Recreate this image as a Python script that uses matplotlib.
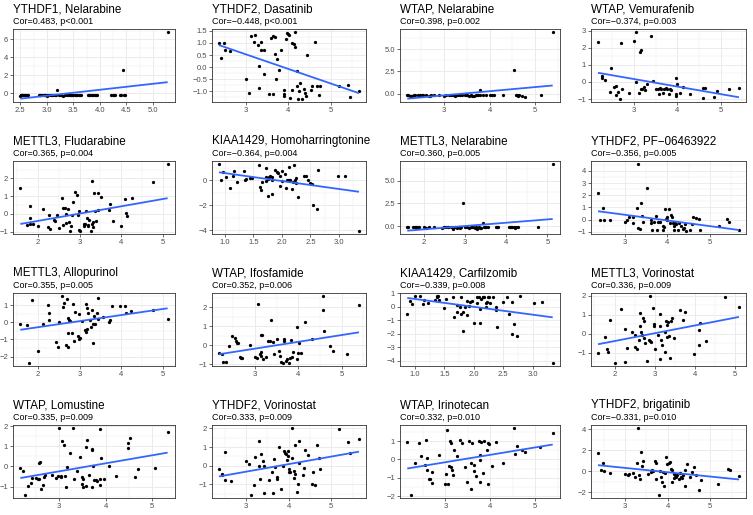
import matplotlib.pyplot as plt
import numpy as np

plt.rcParams['font.family'] = ['Liberation Sans', 'DejaVu Sans']

# ---- data (expression vs drug sensitivity) ----
ythdf1_nel_x = [2.50, 2.52, 2.55, 2.58, 2.64, 2.85, 2.88, 2.91, 2.94, 2.97, 3.00, 3.03, 3.06, 3.09, 3.12,
                3.15, 3.19, 3.22, 3.25, 3.30, 3.35, 3.38, 3.41, 3.44, 3.47, 3.50, 3.53, 3.57, 3.61, 3.65,
                3.78, 3.82, 3.86, 3.90, 3.95, 4.24, 4.27, 4.40, 4.43, 4.46, 5.28,
                2.53, 2.60, 2.87, 2.96, 3.01, 3.08, 3.17, 3.27, 3.46, 3.55, 3.63, 3.80, 3.88, 3.93,
                2.51, 2.54, 2.57, 2.62, 4.22, 4.29, 4.38, 4.47]
ythdf1_nel_y = [-0.25, -0.15, -0.2, -0.15, -0.15, -0.15, -0.2, -0.15, -0.15, -0.2, -0.3, -0.15, -0.15, -0.2, -0.15,
                -0.15, 0.4, -0.15, -0.2, -0.35, -0.2, -0.15, -0.15, -0.2, -0.15, -0.15, -0.15, -0.2, -0.15, -0.15,
                -0.15, -0.2, -0.15, -0.15, -0.2, -0.2, -0.15, -0.15, 2.6, -0.15, 6.8,
                -0.15, -0.2, -0.15, -0.15, -0.2, -0.15, -0.15, -0.15, -0.2, -0.15, -0.15, -0.15, -0.2, -0.15,
                -0.15, -0.2, -0.15, -0.15, -0.15, -0.2, -0.15, -0.15]

ythdf2_das_x = [2.37, 2.49, 2.42, 2.50, 2.64, 3.00, 3.07, 3.12, 3.22, 3.20, 3.30, 3.37, 3.36, 3.44, 3.31,
                3.31, 3.44, 3.55, 3.60, 3.65, 3.70, 3.68, 3.73, 3.72, 3.78, 3.82, 3.64, 3.90, 3.90, 3.90,
                3.97, 3.96, 4.00, 4.03, 4.05, 4.10, 4.13, 4.16, 4.17, 4.10, 4.20, 4.22, 4.25, 4.27, 4.24,
                4.33, 4.38, 4.40, 4.41, 4.45, 4.55, 4.57, 4.63, 4.68, 4.73, 4.75, 5.19, 5.42, 5.45, 5.67]
ythdf2_das_y = [0.99, 0.99, 0.36, 0.70, 0.65, -0.50, -1.08, 1.28, 1.33, 1.03, 0.92, 1.05, 0.72, 0.72, 0.04,
                -0.84, -0.27, -1.10, 1.20, 1.27, 1.25, 0.53, 0.32, -0.48, -0.10, 0.70, -1.10, -0.95, -1.10, -1.17,
                1.42, 1.16, 1.36, 1.33, -1.27, 1.00, 0.96, 0.82, 1.44, -0.96, -0.17, -0.78, -0.98, -0.64, -1.30,
                -1.30, -0.92, -1.08, -1.17, 0.50, -0.95, -0.76, 1.06, -0.78, -1.16, -0.76, -0.76, -0.72, -1.24, -0.98]

wtap_nel_x = [2.19, 2.25, 2.30, 2.36, 2.42, 2.48, 2.54, 2.60, 2.66, 2.72, 2.78, 2.88, 3.00, 3.05, 3.10,
              3.15, 3.20, 3.25, 3.30, 3.35, 3.40, 3.45, 3.50, 3.55, 3.60, 3.62, 3.66, 3.70, 3.75, 3.80,
              3.80, 3.85, 3.92, 4.00, 4.05, 4.10, 4.30, 4.54, 4.60, 4.65, 4.72, 4.78, 5.13, 5.39,
              2.33, 2.51, 2.69, 3.28, 3.48, 3.72, 2.21, 2.27, 4.58, 4.62]
wtap_nel_y = [-0.15, -0.3, -0.2, -0.15, -0.15, -0.15, -0.15, -0.15, -0.2, -0.15, -0.15, -0.15, -0.2, -0.15, -0.15,
              -0.15, -0.15, -0.2, -0.15, -0.15, -0.15, -0.15, -0.15, -0.2, -0.15, -0.3, -0.2, -0.15, -0.15, 0.44,
              -0.15, -0.15, -0.15, -0.15, -0.15, -0.15, -0.15, 2.65, -0.15, -0.15, -0.2, -0.35, -0.15, 6.87,
              -0.15, -0.15, -0.2, -0.15, -0.15, -0.15, -0.15, -0.2, -0.15, -0.3]

wtap_vem_x = [2.17, 2.25, 2.27, 2.34, 2.48, 2.44, 2.54, 2.59, 2.58, 2.62, 2.67, 2.70, 2.72, 2.89, 3.00,
              3.04, 3.05, 3.11, 3.13, 3.16, 3.16, 3.19, 3.22, 3.25, 3.31, 3.38, 3.43, 3.50, 3.55, 3.57,
              3.60, 3.63, 3.66, 3.69, 3.73, 3.77, 3.80, 3.82, 3.85, 3.96, 3.96, 3.97, 4.00, 4.06, 4.14,
              4.30, 4.60, 4.64, 4.60, 4.85, 4.91, 5.20, 5.42]
wtap_vem_y = [2.36, 0.33, 0.21, 0.13, 0.84, -0.60, -0.29, -0.25, -0.79, -0.60, -0.98, 2.28, -0.40, -0.63, 2.39,
              2.90, -0.02, -0.63, 1.76, 1.86, -0.40, -0.44, -0.29, -0.48, -0.10, 2.66, 0.04, -0.44, -0.44, -0.73,
              -0.36, -0.44, -0.63, -0.44, -0.36, -0.44, -0.69, -0.40, -0.48, -0.69, -0.83, 0.21, -0.13, -0.63, -0.29,
              -0.69, -0.36, -0.36, -0.94, -0.90, -0.52, -0.44, -0.36]

mettl3_flu_x = [1.58, 1.74, 1.80, 1.80, 1.82, 1.88, 2.00, 2.13, 2.26, 2.25, 2.28, 2.39, 2.42, 2.47, 2.50,
                2.57, 2.60, 2.61, 2.65, 2.67, 2.68, 2.71, 2.74, 2.76, 2.80, 2.81, 2.85, 2.90, 2.93, 2.97,
                2.98, 2.99, 3.00, 3.10, 3.11, 3.14, 3.15, 3.17, 3.20, 3.21, 3.22, 3.27, 3.29, 3.29, 3.31,
                3.32, 3.35, 3.38, 3.40, 3.43, 3.43, 3.52, 3.71, 3.74, 3.81, 3.99, 4.10, 4.12, 4.13, 4.25,
                4.77, 5.11]
mettl3_flu_y = [1.47, -0.65, 0.47, -0.25, -0.58, -0.58, -0.67, 0.29, -0.07, -0.76, -0.87, -0.35, -0.40, -0.04, -0.80,
                0.91, 0.35, -0.65, 0.35, 0.00, -0.53, 0.29, -0.44, -0.95, -0.67, -0.04, 0.65, 1.25, 1.09, -0.07,
                0.16, -0.89, -0.95, -0.56, -0.71, -0.55, 0.15, -0.22, -0.69, -0.62, -0.35, -0.95, 1.87, -0.60, -0.44,
                -0.76, 1.16, 0.15, -0.40, 1.16, 0.20, 0.95, 0.20, 0.53, -0.40, -0.69, 0.84, 0.07, -0.11, 0.87,
                1.78, 2.80]

kiaa_hht_x = [0.90, 0.93, 0.97, 1.03, 1.10, 1.14, 1.17, 1.21, 1.34, 1.35, 1.38, 1.45, 1.47, 1.60, 1.62,
              1.63, 1.66, 1.72, 1.72, 1.73, 1.75, 1.76, 1.78, 1.80, 1.82, 1.83, 1.83, 1.88, 1.91, 1.93,
              1.96, 1.97, 2.00, 2.01, 2.05, 2.07, 2.09, 2.11, 2.13, 2.15, 2.12, 2.17, 2.20, 2.21, 2.23,
              2.24, 2.25, 2.28, 2.39, 2.42, 2.45, 2.50, 2.52, 2.54, 2.62, 2.63, 2.99, 3.10, 3.35]
kiaa_hht_y = [1.28, 0.05, 0.67, 0.23, -0.59, 0.31, 0.72, -0.10, 0.72, 0.05, 0.10, 0.18, 0.18, 1.23, -0.54,
              -0.79, -0.15, 0.23, -0.08, 1.00, 0.10, -1.28, 0.23, 0.36, 0.26, -1.13, 0.05, 0.82, 0.67, 0.56,
              -0.46, 0.31, -0.03, 0.74, 0.49, -0.59, 0.00, 0.05, 0.05, 0.00, 1.03, -0.67, -0.10, 1.20, 0.05,
              0.18, -0.20, -1.36, 0.38, 0.31, 0.05, -0.20, -0.30, -2.00, -2.33, 0.82, 0.31, 0.36, -4.05]

mettl3_nel_x = [1.60, 1.78, 1.83, 1.88, 2.00, 2.12, 2.25, 2.45, 2.50, 2.55, 2.60, 2.65, 2.70, 2.75, 2.80,
                2.85, 2.90, 2.95, 3.00, 3.10, 3.15, 3.20, 3.25, 3.30, 3.33, 3.38, 3.43, 3.45, 3.50, 3.55,
                3.75, 3.80, 4.08, 4.15, 4.25, 4.77, 5.13,
                1.82, 2.05, 2.48, 2.58, 2.72, 2.88, 3.05, 3.18, 3.28, 3.36, 3.48, 3.78,
                1.62, 1.75, 1.80, 4.10, 4.12, 4.18, 4.22, 4.28]
mettl3_nel_y = [-0.15, -0.15, -0.15, -0.15, -0.15, -0.15, -0.15, -0.2, -0.15, -0.15, -0.15, -0.15, -0.3, -0.15, -0.2,
                -0.15, -0.15, 2.56, -0.15, -0.2, -0.15, -0.15, -0.2, -0.35, -0.15, -0.2, 0.37, -0.15, -0.15, -0.15,
                -0.15, -0.15, -0.15, -0.15, -0.15, -0.15, 6.80,
                -0.15, -0.2, -0.15, -0.15, -0.15, -0.2, -0.15, -0.15, -0.15, -0.2, -0.15, -0.15,
                -0.15, -0.15, -0.2, -0.15, -0.15, -0.15, -0.2, -0.15]

ythdf2_pf_x = [2.37, 2.42, 2.49, 2.50, 2.65, 3.00, 3.06, 3.10, 3.20, 3.19, 3.29, 3.31, 3.32, 3.36, 3.38,
               3.41, 3.42, 3.53, 3.61, 3.62, 3.64, 3.69, 3.73, 3.76, 3.78, 3.83, 3.89, 3.89, 3.92, 3.95,
               3.96, 3.98, 4.00, 4.04, 4.06, 4.09, 4.11, 4.14, 4.15, 4.16, 4.18, 4.21, 4.24, 4.28, 4.32,
               4.36, 4.39, 4.41, 4.44, 4.52, 4.58, 4.60, 4.66, 4.74, 4.77, 5.20, 5.41, 5.45, 5.68]
ythdf2_pf_y = [2.20, 0.00, 0.92, 0.00, 0.00, -0.20, -0.08, 0.20, 0.18, -0.32, 0.92, 4.55, -0.74, -0.82, 1.40,
               0.26, -0.24, 2.63, 0.00, -0.29, -0.87, -0.24, 0.26, -0.87, -0.24, -0.21, -0.53, -0.87, -0.63, 0.87,
               0.05, 0.21, -0.05, 0.87, -0.26, 0.39, 0.21, -0.32, -0.53, -0.87, -0.26, -0.39, -0.87, -0.32, -0.50,
               -0.82, -0.66, -0.39, -0.92, -0.87, -0.39, 0.18, 0.16, 0.05, -0.87, -0.55, 0.05, -0.24, -0.87]

mettl3_allo_x = [1.58, 1.74, 1.79, 1.87, 2.00, 2.12, 2.25, 2.26, 2.27, 2.44, 2.48, 2.50, 2.57, 2.61, 2.63,
                 2.68, 2.71, 2.69, 2.71, 2.73, 2.75, 2.78, 2.81, 2.85, 2.86, 2.90, 2.95, 2.98, 2.99, 3.00,
                 3.06, 3.14, 3.15, 3.15, 3.17, 3.18, 3.21, 3.24, 3.27, 3.29, 3.31, 3.33, 3.35, 3.37, 3.41,
                 3.43, 3.44, 3.55, 3.71, 3.72, 3.77, 3.97, 4.09, 4.11, 4.24, 4.77, 5.11]
mettl3_allo_y = [-0.09, -0.17, -2.36, 1.32, -1.70, -0.08, 1.00, 0.15, 0.51, -1.17, -1.45, 0.00, 1.51, 0.91, 1.13,
                 -1.30, -1.45, 1.38, -0.60, 0.25, 0.15, 0.06, -0.60, 1.04, -1.08, 0.62, -0.79, 0.49, -0.98, -0.94,
                 0.09, -0.47, 1.09, -0.55, -0.42, 0.85, 0.53, 0.15, -0.28, 0.72, -0.13, -1.21, 0.34, -0.09, 0.53,
                 0.21, 1.40, 0.28, 0.00, 0.15, 0.96, 0.96, 0.96, 0.53, 0.66, 0.72, 0.21]

wtap_ifo_x = [2.17, 2.24, 2.27, 2.34, 2.41, 2.47, 2.53, 2.56, 2.59, 2.61, 2.65, 2.68, 2.71, 2.89, 3.01,
              3.05, 3.06, 3.11, 3.13, 3.15, 3.13, 3.16, 3.19, 3.26, 3.29, 3.34, 3.37, 3.41, 3.43, 3.50,
              3.56, 3.57, 3.61, 3.64, 3.66, 3.68, 3.72, 3.75, 3.78, 3.81, 3.82, 3.85, 3.88, 3.96, 3.97,
              3.99, 4.01, 4.07, 4.15, 4.32, 4.56, 4.58, 4.60, 4.73, 4.79, 5.13, 5.40]
wtap_ifo_y = [-0.40, -0.43, -0.86, -0.90, -0.05, 0.47, 0.38, 0.21, 0.14, 0.14, -0.60, -0.69, -0.66, 0.00, -0.60,
              -0.66, 2.17, -0.43, -0.55, -0.35, 0.57, 0.52, -0.72, -0.60, 0.21, 0.21, 1.34, 0.17, -0.45, 0.31,
              -0.28, -0.55, -0.86, -0.91, 0.34, 0.21, -0.83, -0.72, -0.91, -0.66, 0.26, -0.60, -0.35, -0.72, 0.98,
              -0.40, 0.14, -0.41, 1.21, 0.31, 1.84, 2.58, 0.76, -0.05, -0.28, -0.43, 2.10]

kiaa_carf_x = [0.87, 0.91, 0.95, 1.00, 1.09, 1.13, 1.16, 1.22, 1.34, 1.37, 1.38, 1.40, 1.41, 1.49, 1.52,
               1.65, 1.67, 1.71, 1.72, 1.77, 1.79, 1.79, 1.81, 1.82, 1.85, 1.88, 1.89, 1.92, 1.93, 1.97,
               2.01, 2.06, 2.05, 2.09, 2.10, 2.11, 2.13, 2.15, 2.16, 2.18, 2.20, 2.20, 2.23, 2.24, 2.26,
               2.28, 2.33, 2.37, 2.38, 2.40, 2.50, 2.56, 2.59, 2.64, 2.64, 2.69, 2.73, 2.79, 3.03, 3.15,
               3.34]
kiaa_carf_y = [-0.53, 0.43, 0.19, 0.78, 0.78, 0.19, 0.50, 0.26, 0.50, 0.75, 0.78, 0.78, 0.50, -0.10, 0.60,
               0.75, -0.76, -0.36, 0.14, 0.02, -0.53, 0.75, -0.36, -1.76, -0.02, 0.43, -0.62, 0.10, 0.36, 0.40,
               -1.18, 0.31, 0.75, 0.70, -1.23, -0.14, 0.58, 0.75, 0.75, 0.75, 0.02, 0.26, 0.38, 0.75, 0.75,
               0.31, 0.75, -0.22, -0.02, -1.47, 0.38, 0.75, -0.55, 0.38, -2.00, -1.25, -2.12, 0.78, 0.26, 0.33,
               -4.13]

mettl3_vor_x = [1.59, 1.76, 1.82, 1.83, 1.88, 2.00, 2.15, 2.26, 2.26, 2.30, 2.44, 2.50, 2.52, 2.55, 2.62,
                2.63, 2.64, 2.66, 2.68, 2.70, 2.73, 2.74, 2.77, 2.81, 2.86, 2.89, 2.92, 2.88, 2.97, 2.99,
                2.99, 3.02, 3.09, 3.13, 3.14, 3.13, 3.15, 3.18, 3.25, 3.26, 3.28, 3.30, 3.32, 3.34, 3.36,
                3.38, 3.40, 3.42, 3.48, 3.64, 3.70, 3.76, 3.98, 4.10, 4.13, 4.11, 4.28, 4.76, 5.10]
mettl3_vor_y = [-1.02, -0.19, -0.83, -0.97, 0.71, -1.53, 1.31, 0.24, -1.48, -0.76, 0.07, -0.05, -0.72, -0.79, -0.31,
                0.38, 1.10, 0.07, -0.07, 0.83, 0.67, -0.22, -0.48, -1.45, -0.36, -0.41, -0.45, 1.97, 1.36, 0.53,
                0.38, -0.79, -0.07, 1.02, -1.36, 0.38, -0.31, -0.62, -0.97, 0.10, 0.67, -0.19, 0.45, 0.59, -0.14,
                -1.28, 0.67, 0.84, -0.21, 1.26, 0.71, 1.14, -1.07, 0.21, 0.55, -0.59, -0.38, 1.91, 1.40]

wtap_lom_x = [2.17, 2.23, 2.26, 2.33, 2.39, 2.43, 2.50, 2.54, 2.58, 2.58, 2.60, 2.61, 2.65, 2.67, 2.69,
              2.84, 2.93, 2.97, 2.99, 3.04, 3.05, 3.06, 3.10, 3.13, 3.15, 3.18, 3.24, 3.31, 3.33, 3.38,
              3.44, 3.50, 3.50, 3.51, 3.52, 3.57, 3.58, 3.60, 3.64, 3.70, 3.71, 3.73, 3.71, 3.74, 3.79,
              3.82, 3.87, 3.87, 3.88, 3.90, 3.97, 4.07, 4.23, 4.47, 4.49, 4.53, 4.64, 4.69, 5.05, 5.33]
wtap_lom_y = [-0.08, -0.24, -1.40, -0.95, -0.81, -0.56, -0.56, -0.63, -0.60, 0.15, 0.24, -1.11, -0.92, -0.52, -0.44,
              -0.44, -0.56, -0.48, 1.89, -0.52, -0.47, 1.24, 1.05, -0.47, -1.00, -0.03, 0.65, 1.89, -0.60, -0.24,
              0.45, -0.52, -0.87, -1.00, -0.60, -0.95, 0.94, 1.31, -0.40, 0.85, 0.81, 0.02, -1.02, -0.65, -0.68,
              -0.73, 1.85, -0.92, -0.63, 0.42, -0.60, 0.02, -0.47, 1.15, 0.90, 1.42, -0.52, -0.14, -0.08, 1.69]

ythdf2_vor_x = [2.37, 2.43, 2.45, 2.50, 2.51, 2.66, 3.00, 3.08, 3.13, 3.20, 3.22, 3.30, 3.31, 3.32, 3.36,
                3.39, 3.42, 3.43, 3.54, 3.62, 3.64, 3.67, 3.69, 3.72, 3.73, 3.77, 3.82, 3.87, 3.90, 3.92,
                3.94, 3.96, 3.98, 3.99, 4.01, 4.01, 4.04, 4.07, 4.09, 4.12, 4.13, 4.15, 4.16, 4.19, 4.21,
                4.24, 4.25, 4.33, 4.37, 4.39, 4.45, 4.55, 4.57, 4.61, 4.66, 4.74, 4.72, 5.17, 5.40, 5.44,
                5.65]
ythdf2_vor_y = [-0.17, -0.43, -0.52, 0.72, -0.74, -0.84, 0.24, 0.10, -1.55, -1.03, 0.45, 1.31, -0.03, -0.71, 0.64,
                0.24, 0.00, -1.45, -0.76, -0.31, -1.45, 0.38, -0.05, -0.60, -0.72, 0.98, -1.22, -0.02, 0.78, 0.69,
                0.64, 0.29, 0.52, 0.76, -0.34, -0.17, -0.31, 2.00, 0.41, -0.28, -0.66, 1.12, -0.45, -1.38, -1.00,
                1.34, 0.15, -0.52, -0.14, 0.86, 0.59, -0.97, -0.36, -1.03, 1.12, -0.17, 0.41, 1.97, 1.26, 0.66,
                1.45]

wtap_iri_x = [2.15, 2.24, 2.32, 2.41, 2.45, 2.54, 2.57, 2.59, 2.60, 2.64, 2.66, 2.69, 2.69, 2.86, 3.00,
              3.01, 3.03, 3.06, 3.09, 3.11, 3.13, 3.13, 3.15, 3.18, 3.17, 3.26, 3.33, 3.37, 3.43, 3.47,
              3.52, 3.56, 3.57, 3.60, 3.63, 3.64, 3.67, 3.74, 3.76, 3.76, 3.77, 3.79, 3.83, 3.85, 3.93,
              3.95, 3.94, 3.97, 4.04, 4.13, 4.29, 4.53, 4.56, 4.59, 4.70, 4.78, 5.11, 5.39]
wtap_iri_y = [0.93, -1.92, -0.18, 0.88, 0.19, -0.32, 1.05, -0.58, 0.05, -1.07, -1.07, -0.69, -1.27, 0.23, -1.33,
              -0.79, 1.59, -1.33, -0.34, 1.00, 0.90, -0.41, -0.56, 0.53, -0.83, 0.16, 1.05, 0.88, -0.44, -1.22,
              1.02, -0.21, -1.62, 0.90, -0.62, -0.30, -0.90, 1.00, -0.02, -1.22, 0.23, 0.93, -0.72, 0.98, 0.49,
              0.88, -1.36, 0.81, -0.35, 0.93, -0.20, 1.69, 0.28, 0.72, 0.53, 0.40, 0.70, 1.46]

ythdf2_brig_x = [2.37, 2.43, 2.49, 2.50, 2.65, 3.00, 3.06, 3.10, 3.20, 3.23, 3.28, 3.31, 3.32, 3.36, 3.38,
                 3.41, 3.43, 3.53, 3.61, 3.63, 3.66, 3.70, 3.73, 3.73, 3.79, 3.81, 3.85, 3.87, 3.89, 3.91,
                 3.94, 3.95, 3.98, 4.02, 4.05, 4.08, 4.10, 4.11, 4.14, 4.16, 4.17, 4.20, 4.23, 4.26, 4.29,
                 4.31, 4.33, 4.37, 4.40, 4.41, 4.45, 4.53, 4.56, 4.61, 4.66, 4.73, 4.77, 5.19, 5.41, 5.45,
                 5.67]
ythdf2_brig_y = [1.78, 0.16, 0.81, 0.03, -0.12, -0.28, -0.34, -0.28, -0.19, -0.50, 0.81, 4.10, -0.34, -0.69, 1.87,
                 0.53, 1.00, -0.28, -0.03, 0.12, 0.06, 0.97, 0.84, -0.75, -2.22, 0.03, -0.50, -0.97, -0.03, -1.44,
                 -0.19, 1.37, 0.69, 0.81, 0.90, 0.22, 0.16, -0.97, -0.22, -0.66, -0.34, -0.53, -0.34, -0.75, -0.19,
                 -0.50, -0.66, -0.34, -1.44, 0.16, 0.66, -0.50, -0.03, 0.37, -0.34, -1.75, -0.81, -1.22, 0.19, 0.12,
                 -0.44]

titles = ["YTHDF1, Nelarabine", "YTHDF2, Dasatinib", "WTAP, Nelarabine", "WTAP, Vemurafenib",
          "METTL3, Fludarabine", "KIAA1429, Homoharringtonine", "METTL3, Nelarabine", "YTHDF2, PF\u221206463922",
          "METTL3, Allopurinol", "WTAP, Ifosfamide", "KIAA1429, Carfilzomib", "METTL3, Vorinostat",
          "WTAP, Lomustine", "YTHDF2, Vorinostat", "WTAP, Irinotecan", "YTHDF2, brigatinib"]
cors = ["0.483", "\u22120.448", "0.398", "\u22120.374",
        "0.365", "\u22120.364", "0.360", "\u22120.356",
        "0.355", "0.352", "\u22120.339", "0.336",
        "0.335", "0.333", "0.332", "\u22120.331"]
pvals = ["p<0.001", "p<0.001", "p=0.002", "p=0.003",
         "p=0.004", "p=0.004", "p=0.005", "p=0.005",
         "p=0.005", "p=0.006", "p=0.008", "p=0.009",
         "p=0.009", "p=0.009", "p=0.010", "p=0.010"]

xs = [ythdf1_nel_x, ythdf2_das_x, wtap_nel_x, wtap_vem_x,
      mettl3_flu_x, kiaa_hht_x, mettl3_nel_x, ythdf2_pf_x,
      mettl3_allo_x, wtap_ifo_x, kiaa_carf_x, mettl3_vor_x,
      wtap_lom_x, ythdf2_vor_x, wtap_iri_x, ythdf2_brig_x]
ys = [ythdf1_nel_y, ythdf2_das_y, wtap_nel_y, wtap_vem_y,
      mettl3_flu_y, kiaa_hht_y, mettl3_nel_y, ythdf2_pf_y,
      mettl3_allo_y, wtap_ifo_y, kiaa_carf_y, mettl3_vor_y,
      wtap_lom_y, ythdf2_vor_y, wtap_iri_y, ythdf2_brig_y]

xticks = [[2.5, 3.0, 3.5, 4.0, 4.5, 5.0], [3, 4, 5], [3, 4, 5], [3, 4, 5],
          [2, 3, 4, 5], [1.0, 1.5, 2.0, 2.5, 3.0], [2, 3, 4, 5], [3, 4, 5],
          [2, 3, 4, 5], [3, 4, 5], [1.0, 1.5, 2.0, 2.5, 3.0], [2, 3, 4, 5],
          [3, 4, 5], [3, 4, 5], [3, 4, 5], [3, 4, 5]]
yticks = [[0, 2, 4, 6], [-1.0, -0.5, 0.0, 0.5, 1.0, 1.5], [0.0, 2.5, 5.0], [-1, 0, 1, 2, 3],
          [-1, 0, 1, 2], [-4, -2, 0], [0.0, 2.5, 5.0], [-1, 0, 1, 2, 3, 4],
          [-2, -1, 0, 1], [-1, 0, 1, 2], [-4, -3, -2, -1, 0, 1], [-1, 0, 1, 2],
          [-1, 0, 1, 2], [-1, 0, 1, 2], [-2, -1, 0, 1], [-2, 0, 2, 4]]


def tick_labels(vals):
    dec = any(float(v) != int(v) for v in vals)
    out = []
    for v in vals:
        s = ("%.1f" % v) if dec else ("%d" % v)
        out.append(s.replace("-", "\u2212"))
    return out


def minor_of(vals):
    step = vals[1] - vals[0]
    return [vals[0] - step / 2] + [v + step / 2 for v in vals]


W, H = 753, 515
fig = plt.figure(figsize=(W / 100, H / 100), dpi=100)

col_left = [13, 212, 400, 591]
col_right = [175, 366, 560, 746]
row_top = [29, 161, 293, 425]
panel_h = 73

for i in range(16):
    r, c = divmod(i, 4)
    ax = fig.add_axes([col_left[c] / W, 1 - (row_top[r] + panel_h) / H,
                       (col_right[c] - col_left[c]) / W, panel_h / H])
    x = np.array(xs[i])
    y = np.array(ys[i])
    ax.scatter(x, y, s=5.5, color='black', linewidths=0, zorder=3)

    # linear fit, like geom_smooth(method = "lm", se = FALSE)
    slope, icpt = np.polyfit(x, y, 1)
    xl = np.array([x.min(), x.max()])
    yl = icpt + slope * xl
    ax.plot(xl, yl, color='#3366FF', lw=1.3, zorder=4, solid_capstyle='butt')

    xlo, xhi = x.min(), x.max()
    ylo, yhi = min(y.min(), yl.min()), max(y.max(), yl.max())

    ax.set_xticks(xticks[i])
    ax.set_xticklabels(tick_labels(xticks[i]))
    ax.set_yticks(yticks[i])
    ax.set_yticklabels(tick_labels(yticks[i]))
    ax.set_xticks(minor_of(xticks[i]), minor=True)
    ax.set_yticks(minor_of(yticks[i]), minor=True)
    ax.set_xlim(xlo - 0.05 * (xhi - xlo), xhi + 0.05 * (xhi - xlo))
    ax.set_ylim(ylo - 0.05 * (yhi - ylo), yhi + 0.05 * (yhi - ylo))

    ax.grid(which='major', color='#EBEBEB', lw=0.7, zorder=0)
    ax.grid(which='minor', color='#EBEBEB', lw=0.35, zorder=0)
    ax.set_axisbelow(True)
    ax.tick_params(which='major', length=2, width=0.5, color='#333333',
                   labelsize=5.5, labelcolor='#4D4D4D', pad=1.5)
    ax.tick_params(which='minor', length=0)
    for sp in ax.spines.values():
        sp.set_color('#333333')
        sp.set_linewidth(0.6)

    ax.annotate(titles[i], xy=(0, 1), xycoords='axes fraction', xytext=(0, 17),
                textcoords='offset pixels', fontsize=8.4, color='black', ha='left', va='baseline')
    ax.annotate("Cor=%s, %s" % (cors[i], pvals[i]), xy=(0, 1), xycoords='axes fraction',
                xytext=(0, 5), textcoords='offset pixels', fontsize=6.5, color='black',
                ha='left', va='baseline')

fig.savefig('out.png', dpi=100)
